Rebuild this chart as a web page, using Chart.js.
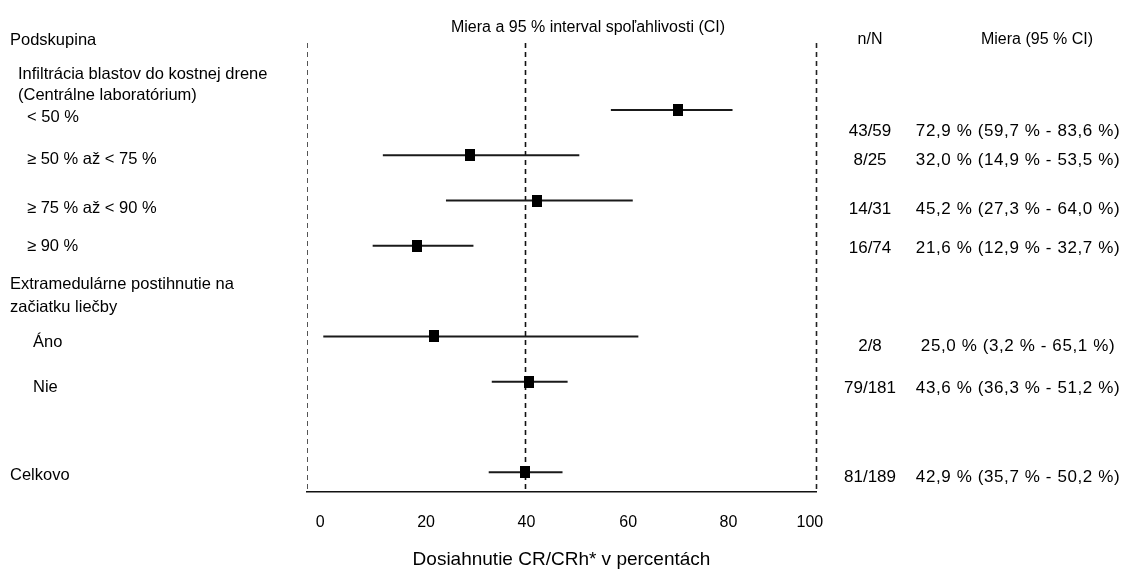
<!DOCTYPE html>
<html>
<head>
<meta charset="utf-8">
<script src="https://cdn.jsdelivr.net/npm/chart.js@4.4.1/dist/chart.umd.min.js"></script>
<style>
  html, body { margin: 0; padding: 0; background: #fff; }
  #wrap { width: 1128px; height: 571px; position: relative; }
</style>
</head>
<body>
<div id="wrap"><canvas id="c"></canvas></div>
<script>
// ---------------- data ----------------
const subgroups = ['< 50 %', '≥ 50 % až < 75 %', '≥ 75 % až < 90 %', '≥ 90 %', 'Áno', 'Nie', 'Celkovo'];
const groupHeadings = [
  ['Infiltrácia blastov do kostnej drene', '(Centrálne laboratórium)'],
  ['Extramedulárne postihnutie na', 'začiatku liečby']
];
const estimate = [72.9, 32.0, 45.2, 21.6, 25.0, 43.6, 42.9];
const lower    = [59.7, 14.9, 27.3, 12.9, 3.2, 36.3, 35.7];
const upper    = [83.6, 53.5, 64.0, 32.7, 65.1, 51.2, 50.2];
const responders = [43, 8, 14, 16, 2, 79, 81];
const totals     = [59, 25, 31, 74, 8, 181, 189];
const tickLabels = ['0', '20', '40', '60', '80', '100'];
const tickValues = [2.6, 23.4, 43.1, 63.1, 82.8, 98.8];
const headers = {
  left: 'Podskupina',
  top: 'Miera a 95 % interval spoľahlivosti (CI)',
  nN: 'n/N',
  measure: 'Miera (95 % CI)',
  xTitle: 'Dosiahnutie CR/CRh* v percentách'
};

// ---------------- layout ----------------
const FONT = '"Liberation Sans", Arial, sans-serif';
const FS = 16;
const FS_LABEL = 16.5;
const FS_VALUE = 17;
const rowSlot = [0, 1, 2, 3, 5, 6, 8];
const labelX = [27, 27, 27, 27, 33, 33, 10];
const labelDy = [8, 4, 8, 1, 6, 6, 3];
const rightDy = [21, 5, 9, 2, 10, 7, 5];
const headingLayout = [
  { x: 18, slots: [-0.773, -0.309] },
  { x: 10, slots: [3.863, 4.349] }
];
const overallIdx = estimate.length - 1;

const fmt = v => v.toFixed(1).replace('.', ',');

// marker image (slightly tall black box)
const marker = document.createElement('canvas');
marker.width = 10; marker.height = 12;
(function () { const m = marker.getContext('2d'); m.fillStyle = '#000'; m.fillRect(0, 0, 10, 12); })();

const datasets = [];
subgroups.forEach((s, i) => {
  datasets.push({
    label: s + ' CI',
    data: [{ x: lower[i], y: rowSlot[i] }, { x: upper[i], y: rowSlot[i] }],
    showLine: true,
    borderColor: '#1a1a1a',
    borderWidth: 2,
    pointRadius: 0,
    pointHoverRadius: 0,
    order: 2
  });
});
datasets.push({
  label: 'Miera',
  data: estimate.map((v, i) => ({ x: v, y: rowSlot[i] })),
  showLine: false,
  pointStyle: marker,
  pointRadius: 6,
  order: 1
});

const refLines = {
  id: 'refLines',
  beforeDatasetsDraw(chart) {
    const { ctx, chartArea: a, scales: { x } } = chart;
    const lines = [
      { v: x.min, w: 1, c: '#555' },
      { v: estimate[overallIdx], w: 1.6, c: '#111' },
      { v: x.max, w: 1.6, c: '#222' }
    ];
    ctx.save();
    ctx.setLineDash([5, 4]);
    lines.forEach(l => {
      const px = Math.round(x.getPixelForValue(l.v)) + 0.5;
      ctx.beginPath();
      ctx.lineWidth = l.w;
      ctx.strokeStyle = l.c;
      ctx.moveTo(px, a.top + 1);
      ctx.lineTo(px, a.bottom);
      ctx.stroke();
    });
    ctx.restore();
  }
};

const texts = {
  id: 'texts',
  afterDraw(chart) {
    const { ctx, scales: { y } } = chart;
    ctx.save();
    ctx.fillStyle = '#000';
    ctx.textBaseline = 'middle';
    ctx.font = FS + 'px ' + FONT;
    ctx.textAlign = 'center';
    ctx.fillText(headers.nN, 870, 40);
    ctx.fillText(headers.measure, 1037, 40);
    ctx.fillText(headers.top, 588, 28);

    ctx.font = FS_LABEL + 'px ' + FONT;
    ctx.textAlign = 'left';
    ctx.fillText(headers.left, 10, 40);
    groupHeadings.forEach((g, gi) => {
      g.forEach((line, li) => {
        ctx.fillText(line, headingLayout[gi].x, y.getPixelForValue(headingLayout[gi].slots[li]));
      });
    });
    subgroups.forEach((s, i) => {
      const py = y.getPixelForValue(rowSlot[i]);
      ctx.font = FS_LABEL + 'px ' + FONT;
      ctx.textAlign = 'left';
      ctx.fillText(s, labelX[i], py + labelDy[i]);
      ctx.font = FS_VALUE + 'px ' + FONT;
      ctx.textAlign = 'center';
      ctx.fillText(responders[i] + '/' + totals[i], 870, py + rightDy[i]);
      ctx.save();
      try { ctx.letterSpacing = '0.6px'; } catch (e) {}
      ctx.fillText(fmt(estimate[i]) + ' % (' + fmt(lower[i]) + ' % - ' + fmt(upper[i]) + ' %)', 1018, py + rightDy[i]);
      ctx.restore();
    });
    ctx.restore();
  }
};

new Chart(document.getElementById('c'), {
  type: 'scatter',
  data: { datasets },
  options: {
    responsive: true,
    maintainAspectRatio: false,
    animation: false,
    events: [],
    layout: { padding: { left: 307, right: 312, top: 42, bottom: 0 } },
    plugins: { legend: { display: false }, tooltip: { enabled: false } },
    scales: {
      x: {
        type: 'linear',
        min: 0,
        max: 100,
        afterBuildTicks(scale) { scale.ticks = tickValues.map(v => ({ value: v })); },
        afterFit(scale) { scale.height = 79; },
        grid: { display: false, drawTicks: false },
        border: { display: true, color: '#111', width: 1.6 },
        ticks: {
          autoSkip: false,
          maxRotation: 0,
          padding: 21,
          color: '#000',
          font: { family: FONT, size: FS },
          callback: (v, i) => tickLabels[i]
        },
        title: {
          display: true,
          text: headers.xTitle,
          color: '#000',
          font: { family: FONT, size: 19 },
          padding: { top: 0, bottom: 0 }
        }
      },
      y: {
        type: 'linear',
        display: false,
        reverse: true,
        min: -1.5,
        max: 8.434
      }
    }
  },
  plugins: [refLines, texts]
});
</script>
</body>
</html>
